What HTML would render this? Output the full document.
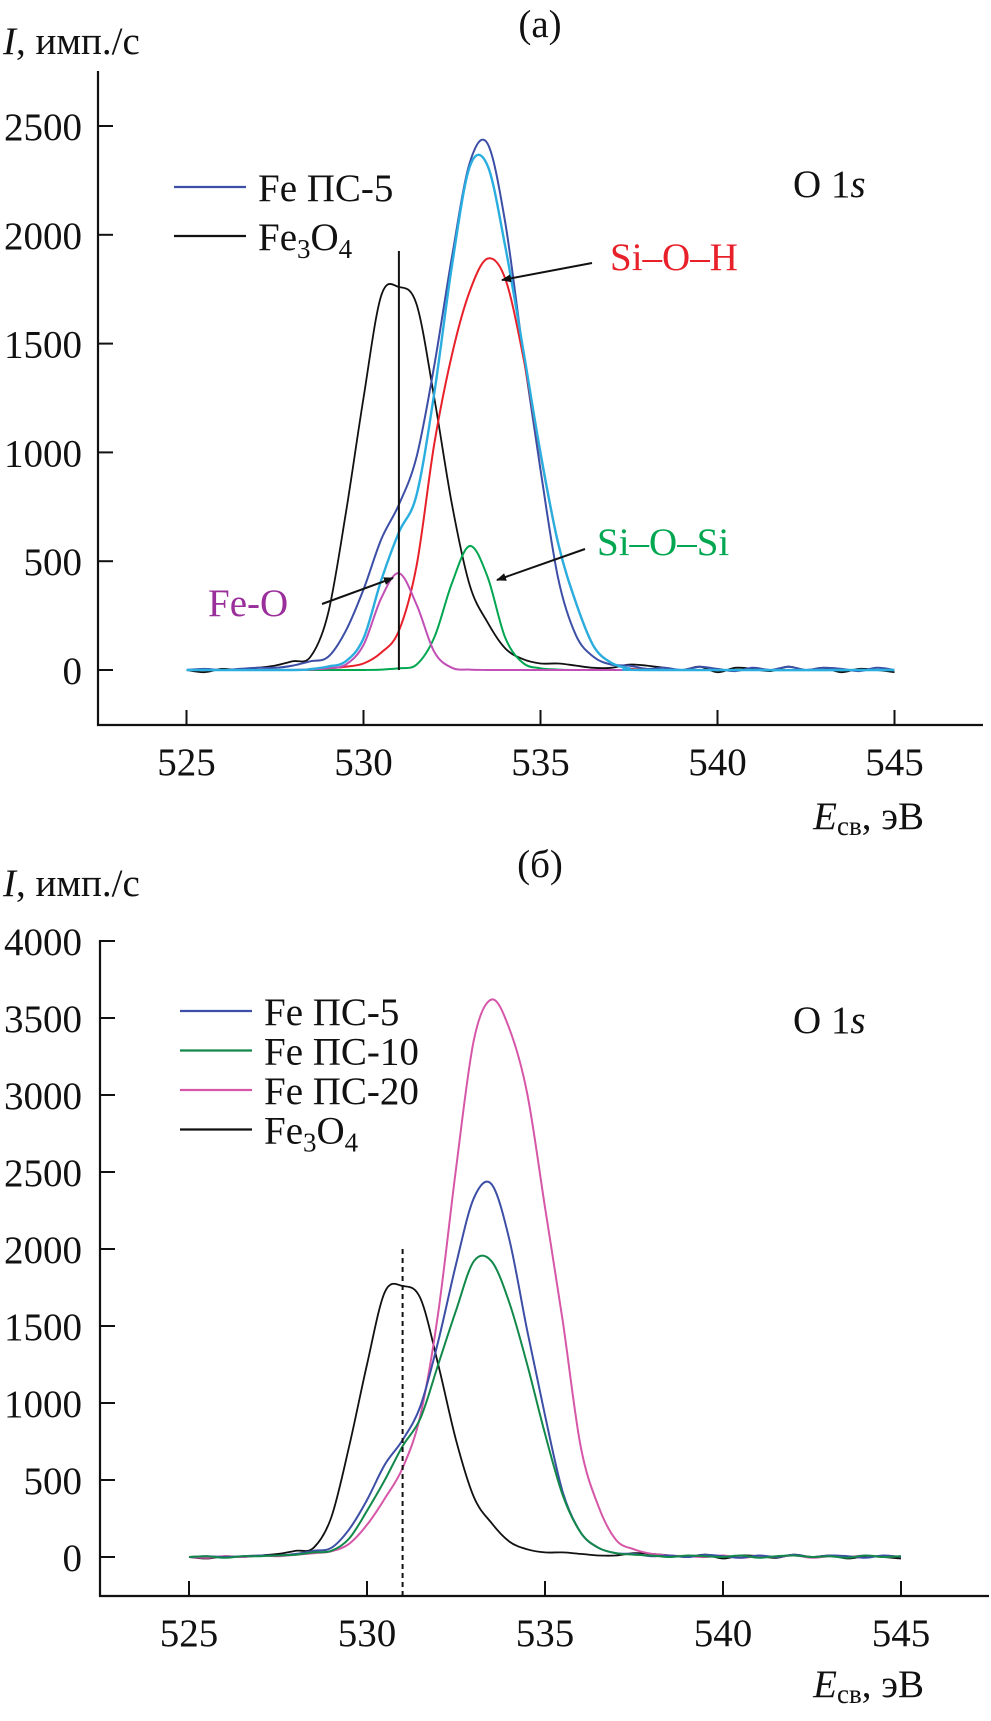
<!DOCTYPE html>
<html><head><meta charset="utf-8"><style>
html,body{margin:0;padding:0;background:#fff}
svg{display:block}
svg text{font-family:"Liberation Serif","Times New Roman","DejaVu Serif",serif}
</style></head><body>
<svg id="fig" width="991" height="1721" viewBox="0 0 991 1721" xmlns="http://www.w3.org/2000/svg">
<defs><marker id="ah" markerWidth="10" markerHeight="8" refX="9" refY="4" orient="auto" markerUnits="userSpaceOnUse"><path d="M0,0 L10,4 L0,8 z" fill="#111"/></marker></defs>
<g id="chartA"></g>
<g id="chartB"></g>
</svg>
<script>
// energies (eV), 0.5 eV grid 525..545
const energies = [525,525.5,526,526.5,527,527.5,528,528.5,529,529.5,530,530.5,531,531.5,532,532.5,533,533.5,534,534.5,535,535.5,536,536.5,537,537.5,538,538.5,539,539.5,540,540.5,541,541.5,542,542.5,543,543.5,544,544.5,545];
const fe3o4 = [0,-10,5,0,10,20,40,60,260,720,1250,1720,1760,1680,1250,760,390,220,100,50,30,30,20,10,10,25,20,10,0,15,-10,10,5,-5,15,0,10,-10,5,0,-10];
const ps5 = [0,5,0,5,10,10,20,40,60,180,370,600,760,980,1400,1900,2330,2420,2060,1470,920,420,160,60,25,20,5,10,0,15,5,-5,10,0,15,0,10,5,-5,10,0];
const ps10 = [0,5,-5,5,5,10,15,30,40,120,300,500,720,900,1250,1600,1920,1920,1650,1250,800,400,160,60,25,15,10,0,10,5,0,10,-5,5,10,0,5,-5,10,0,5];
const ps20 = [0,-5,5,0,10,5,15,25,37,86,209,380,578,920,1585,2520,3355,3620,3430,3010,2270,1530,720,330,110,50,20,10,5,0,10,-5,5,0,10,-5,5,0,10,0,5];
// fit components, grid 528..538
const compEnergies = [528,528.5,529,529.5,530,530.5,531,531.5,532,532.5,533,533.5,534,534.5,535,535.5,536,536.5,537,537.5,538];
const siOH = [0,2,8,15,30,80,180,480,1040,1450,1740,1890,1800,1450,990,580,310,110,33,8,0];
const siOSi = [0,0,0,0,0,2,8,25,150,400,570,430,150,33,8,2,0,0,0,0,0];
const feO = [0,2,8,25,115,330,445,300,83,10,2,0,0,0,0,0,0,0,0,0,0];
const xTicks = [525,530,535,540,545];
const yTicksA = [0,500,1000,1500,2000,2500];
const yTicksB = [0,500,1000,1500,2000,2500,3000,3500,4000];

const NS="http://www.w3.org/2000/svg";
const FS=39, FSS=27;
function mk(parent,tag,attrs,text){const e=document.createElementNS(NS,tag);for(const k in attrs)e.setAttribute(k,attrs[k]);if(text!==undefined)e.textContent=text;parent.appendChild(e);return e;}
function smoothPath(pts){let d="M"+pts[0][0]+","+pts[0][1];for(let i=0;i<pts.length-1;i++){const p0=pts[i-1]||pts[i],p1=pts[i],p2=pts[i+1],p3=pts[i+2]||p2;const c1=[p1[0]+(p2[0]-p0[0])/6,p1[1]+(p2[1]-p0[1])/6],c2=[p2[0]-(p3[0]-p1[0])/6,p2[1]-(p3[1]-p1[1])/6];d+=" C"+c1[0].toFixed(1)+","+c1[1].toFixed(1)+" "+c2[0].toFixed(1)+","+c2[1].toFixed(1)+" "+p2[0].toFixed(1)+","+p2[1].toFixed(1);}return d;}

function axes(g,cfg){
  const {axX,axTop,axBot,axRight,xS,yS,yTicks,titleTxt,titleY,yLabY,eLabY}=cfg;
  const ax=mk(g,'path',{d:`M${axX},${axTop} L${axX},${axBot} L${axRight},${axBot}`,fill:'none',stroke:'#111','stroke-width':2.2});
  
  
  yTicks.forEach(v=>{const y=yS(v);
    const t=mk(g,'line',{x1:axX,x2:axX+15,y1:y,y2:y,stroke:'#111','stroke-width':2});
    
    
    const l=mk(g,'text',{x:82,y:y+14,'text-anchor':'end','font-size':FS,fill:'#111'},String(v));
    
    
  });
  xTicks.forEach(v=>{const x=xS(v);
    const t=mk(g,'line',{x1:x,x2:x,y1:axBot,y2:axBot-15,stroke:'#111','stroke-width':2});
    
    
    const l=mk(g,'text',{x:x,y:axBot+50,'text-anchor':'middle','font-size':FS,fill:'#111'},String(v));
    
    
  });
  const tt=mk(g,'text',{x:540,y:titleY,'text-anchor':'middle','font-size':FS,fill:'#111'},titleTxt);
  
  
  const yl=mk(g,'text',{x:3,y:yLabY,'font-size':FS,fill:'#111'});
  
  
  mk(yl,'tspan',{'font-style':'italic'},'I');mk(yl,'tspan',{},', имп./с');
  const el=mk(g,'text',{x:924,y:eLabY,'text-anchor':'end','font-size':FS,fill:'#111'});
  
  
  mk(el,'tspan',{'font-style':'italic'},'E');mk(el,'tspan',{'font-size':FSS,dy:6},'св');mk(el,'tspan',{dy:-6},', эВ');
}
function series(g,name,xs,ys,xS,yS,color,w){
  const pts=xs.map((x,i)=>[xS(x),yS(ys[i])]);
  const p=mk(g,'path',{d:smoothPath(pts),fill:'none',stroke:color,'stroke-width':w||2,'stroke-linejoin':'round'});
  
  
}
function legend(g,items,x1,y0,dy){
  items.forEach((it,i)=>{const y=y0+i*dy;
    const l=mk(g,'line',{x1:x1,x2:x1+72,y1:y,y2:y,stroke:it[1],'stroke-width':2.2});
    
    
    const t=mk(g,'text',{x:x1+84,y:y+14,'font-size':FS,fill:'#111'});
    
    
    if(it[0]==='Fe3O4'){mk(t,'tspan',{},'Fe');mk(t,'tspan',{'font-size':FSS,dy:8},'3');mk(t,'tspan',{dy:-8},'O');mk(t,'tspan',{'font-size':FSS,dy:8},'4');}
    else t.textContent=it[0];
  });
}
function o1s(g,y){const t=mk(g,'text',{x:793,y:y,'font-size':FS,fill:'#111'});
  
  
  mk(t,'tspan',{},'O 1');mk(t,'tspan',{'font-style':'italic'},'s');}

// ---- Chart A ----
const gA=document.getElementById('chartA');
const xA=e=>186.5+(e-525)*35.4, yA=v=>670-v*544/2500;
axes(gA,{axX:98,axTop:71,axBot:725,axRight:983,xS:xA,yS:yA,yTicks:yTicksA,titleTxt:'(a)',titleY:37,yLabY:54,eLabY:829});
series(gA,'fe3o4-line',energies,fe3o4,xA,yA,'#111',1.8);
series(gA,'fe-ps5-line',energies,ps5,xA,yA,'#3c4ea6',2);
series(gA,'si-o-h-fit',compEnergies,siOH,xA,yA,'#e8202a',2);
series(gA,'si-o-si-fit',compEnergies,siOSi,xA,yA,'#00a650',2);
series(gA,'fe-o-fit',compEnergies,feO,xA,yA,'#c24fb5',2);
const envE=[525].concat(compEnergies,[545]);
const envV=[0].concat(compEnergies.map((e,i)=>siOH[i]+siOSi[i]+feO[i]),[0]);
series(gA,'fit-envelope',envE,envV,xA,yA,'#2aaedf',2.4);
const vl=mk(gA,'line',{x1:xA(531),x2:xA(531),y1:251,y2:yA(0),stroke:'#111','stroke-width':2});


legend(gA,[['Fe ПС-5','#3c4ea6'],['Fe3O4','#111']],174,187,49);
o1s(gA,197);
[['Si–O–H','#e8202a',610,270,592,263,502,280,'si-o-h-label'],['Si–O–Si','#00a650',597,555,585,549,497,580,'si-o-si-label'],['Fe-O','#9a2e9a',208,616,322,604,393,578,'fe-o-label']].forEach(a=>{
  const t=mk(gA,'text',{x:a[2],y:a[3],'font-size':FS,fill:a[1]},a[0]);
  
  
  const ar=mk(gA,'line',{x1:a[4],y1:a[5],x2:a[6],y2:a[7],stroke:'#111','stroke-width':2,'marker-end':'url(#ah)'});
  
  
});

// ---- Chart B ----
const gB=document.getElementById('chartB');
const xB=e=>189+(e-525)*35.6, yB=v=>1557-v*616/4000;
axes(gB,{axX:100,axTop:940,axBot:1596,axRight:989,xS:xB,yS:yB,yTicks:yTicksB,titleTxt:'(б)',titleY:877,yLabY:896,eLabY:1697});
series(gB,'fe3o4-line',energies,fe3o4,xB,yB,'#111',1.8);
series(gB,'fe-ps20-line',energies,ps20,xB,yB,'#d656a8',2);
series(gB,'fe-ps5-line',energies,ps5,xB,yB,'#3c4ea6',2);
series(gB,'fe-ps10-line',energies,ps10,xB,yB,'#12894a',2);
const dl=mk(gB,'line',{x1:xB(531),x2:xB(531),y1:1249,y2:1596,stroke:'#111','stroke-width':2,'stroke-dasharray':'5,4'});


legend(gB,[['Fe ПС-5','#3c4ea6'],['Fe ПС-10','#12894a'],['Fe ПС-20','#d656a8'],['Fe3O4','#111']],180,1011,39.5);
o1s(gB,1033);
</script>
</body></html>
